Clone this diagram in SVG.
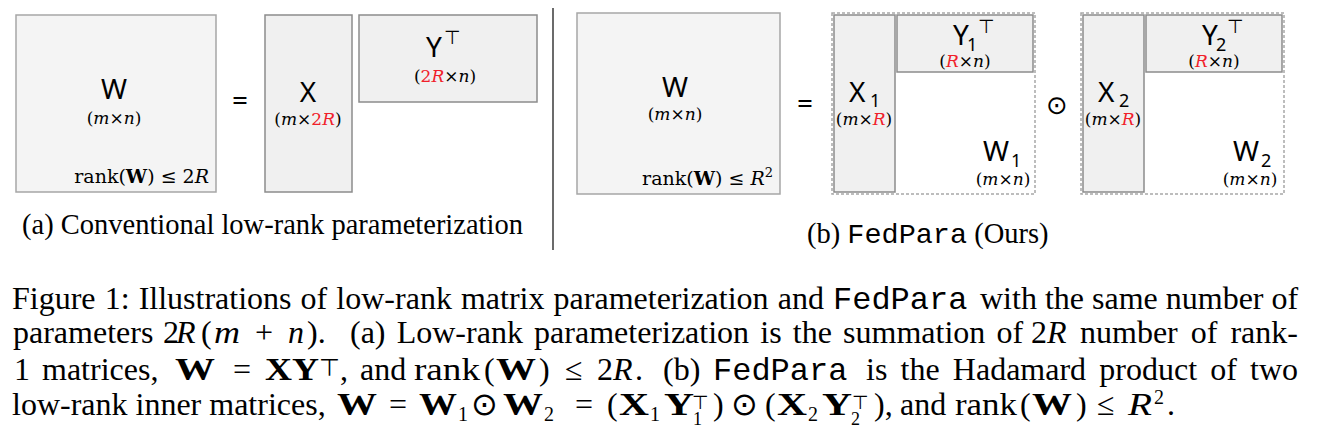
<svg xmlns="http://www.w3.org/2000/svg" width="1326" height="441" viewBox="0 0 1326 441">
<style>
.mat{fill:#f4f4f4;stroke:#a6a6a6;stroke-width:1.5}
.fac{fill:#f0f0f0;stroke:#8c8c8c;stroke-width:1.5}
.dash{fill:none;stroke:#a8a8a8;stroke-width:1.5;stroke-dasharray:3 2}
.lbl{font-family:"Noto Sans","Open Sans",sans-serif;font-size:28px;fill:#000}
.sub{font-family:"Noto Sans","Open Sans",sans-serif;font-size:18px;fill:#000}
.top{font-family:"DejaVu Sans",sans-serif;font-size:19px;fill:#000}
.dim{font-family:"DejaVu Serif",serif;font-size:17px;fill:#000}
.rk{font-family:"DejaVu Serif",serif;font-size:19px;fill:#000}
.it{font-style:italic}
.b{font-weight:bold}
.red{fill:#f0202a}
.op{font-family:"Noto Sans","DejaVu Sans",sans-serif;font-size:28px;fill:#000}
.odot{font-family:"DejaVu Sans",sans-serif;font-size:26px;fill:#000}
.sc{font-family:"Liberation Serif",serif;font-size:28.5px;fill:#000}
.cap{font-family:"Liberation Serif",serif;font-size:32px;fill:#000}
.mono{font-family:"Liberation Mono",monospace}
.sm{font-size:20px}
.sym{font-family:"DejaVu Sans",sans-serif}
</style>

<!-- (a) conventional -->
<g id="W-a">
<rect class="mat" x="16" y="15" width="200" height="177"/>
<text class="lbl" x="114" y="99" text-anchor="middle">W</text>
<text class="dim" x="114" y="124" text-anchor="middle">(<tspan class="it">m</tspan>×<tspan class="it">n</tspan>)</text>
<text class="rk" x="209" y="183" text-anchor="end">rank(<tspan class="b">W</tspan>) ≤ 2<tspan class="it">R</tspan></text>
</g>
<g id="X-a">
<rect class="fac" x="265" y="15" width="87" height="177"/>
<text class="lbl" x="308" y="102" text-anchor="middle">X</text>
<text class="dim" x="308" y="125" text-anchor="middle">(<tspan class="it">m</tspan>×<tspan class="red">2<tspan class="it">R</tspan></tspan>)</text>
</g>
<g id="Y-a">
<rect class="fac" x="359" y="15" width="178" height="87"/>
<text class="lbl" x="426" y="57">Y</text>
<text class="top" x="444" y="44">⊤</text>
<text class="dim" x="445" y="82" text-anchor="middle">(<tspan class="red">2<tspan class="it">R</tspan></tspan>×<tspan class="it">n</tspan>)</text>
</g>

<!-- (b) FedPara -->
<g id="W-b">
<rect class="mat" x="577" y="13" width="203" height="181"/>
<text class="lbl" x="675" y="97" text-anchor="middle">W</text>
<text class="dim" x="675" y="120" text-anchor="middle">(<tspan class="it">m</tspan>×<tspan class="it">n</tspan>)</text>
<text class="rk" x="773" y="185" text-anchor="end">rank(<tspan class="b">W</tspan>) ≤ <tspan class="it">R</tspan><tspan font-size="13" dy="-8">2</tspan></text>
</g>
<g id="W1">
<rect class="dash" x="832" y="13" width="203" height="181"/>
<text class="lbl" x="983" y="161">W</text>
<text class="sub" x="1011" y="167">1</text>
<text class="dim" x="1003" y="185" text-anchor="middle">(<tspan class="it">m</tspan>×<tspan class="it">n</tspan>)</text>
</g>
<g id="X1">
<rect class="fac" x="834" y="15" width="61" height="177"/>
<text class="lbl" x="849" y="102">X</text>
<text class="sub" x="870" y="107">1</text>
<text class="dim" x="864" y="125" text-anchor="middle">(<tspan class="it">m</tspan>×<tspan class="it red">R</tspan>)</text>
</g>
<g id="Y1">
<rect class="fac" x="897" y="15" width="136" height="57"/>
<text class="lbl" x="953" y="45">Y</text>
<text class="sub" x="967" y="51">1</text>
<text class="top" x="978" y="33">⊤</text>
<text class="dim" x="965" y="67" text-anchor="middle">(<tspan class="it red">R</tspan>×<tspan class="it">n</tspan>)</text>
</g>
<g id="W2">
<rect class="dash" x="1081" y="13" width="203" height="181"/>
<text class="lbl" x="1233" y="161">W</text>
<text class="sub" x="1261" y="167">2</text>
<text class="dim" x="1250" y="185" text-anchor="middle">(<tspan class="it">m</tspan>×<tspan class="it">n</tspan>)</text>
</g>
<g id="X2">
<rect class="fac" x="1083" y="15" width="61" height="177"/>
<text class="lbl" x="1098" y="102">X</text>
<text class="sub" x="1119" y="107">2</text>
<text class="dim" x="1113" y="125" text-anchor="middle">(<tspan class="it">m</tspan>×<tspan class="it red">R</tspan>)</text>
</g>
<g id="Y2">
<rect class="fac" x="1146" y="15" width="136" height="57"/>
<text class="lbl" x="1202" y="45">Y</text>
<text class="sub" x="1216" y="51">2</text>
<text class="top" x="1227" y="33">⊤</text>
<text class="dim" x="1214" y="67" text-anchor="middle">(<tspan class="it red">R</tspan>×<tspan class="it">n</tspan>)</text>
</g>

<g id="connectors">
<text class="op" x="240" y="110" text-anchor="middle">=</text>
<text class="op" x="805" y="113" text-anchor="middle">=</text>
<text class="odot" x="1057" y="114" text-anchor="middle">⊙</text>
<line x1="553" y1="8" x2="553" y2="250" stroke="#3a3a3a" stroke-width="1.5"/>
</g>

<g id="subcaptions">
<text class="sc" x="22" y="234">(a) Conventional low-rank parameterization</text>
<text class="sc" x="807" y="243">(b) <tspan class="mono">FedPara</tspan> (Ours)</text>
</g>

<g id="caption" class="cap">
<text y="309"><tspan x="12" word-spacing="1.1">Figure 1: Illustrations of low-rank matrix parameterization and</tspan><tspan x="833" class="mono">FedPara</tspan><tspan x="980">with the same number of</tspan></text>
<text y="343"><tspan x="13">parameters</tspan><tspan x="163">2</tspan><tspan x="176" class="it">R</tspan><tspan x="201">(</tspan><tspan x="214" class="it" textLength="26" lengthAdjust="spacingAndGlyphs">m</tspan><tspan x="255">+</tspan><tspan x="288" class="it">n</tspan><tspan x="307">).</tspan><tspan x="350" word-spacing="3.2">(a) Low-rank parameterization is the summation of</tspan><tspan x="1031">2</tspan><tspan x="1047" class="it">R</tspan><tspan x="1080" word-spacing="5">number of rank-</tspan></text>
<text y="380"><tspan x="14">1</tspan><tspan x="42">matrices,</tspan><tspan x="175" class="b" textLength="40" lengthAdjust="spacingAndGlyphs">W</tspan><tspan x="233">=</tspan><tspan x="265" class="b" textLength="54" lengthAdjust="spacingAndGlyphs">XY</tspan><tspan x="319" y="376" font-size="24" class="sym">⊤</tspan><tspan x="340" y="380">,</tspan><tspan x="360">and</tspan><tspan x="414" textLength="66" lengthAdjust="spacingAndGlyphs">rank</tspan><tspan x="484">(</tspan><tspan x="496" class="b" textLength="40" lengthAdjust="spacingAndGlyphs">W</tspan><tspan x="539">)</tspan><tspan x="565">≤</tspan><tspan x="597">2</tspan><tspan x="613" class="it">R</tspan><tspan x="635">.</tspan><tspan x="663">(b)</tspan><tspan x="713" class="mono">FedPara</tspan><tspan x="866" word-spacing="5.2">is the Hadamard product of two</tspan></text>
<text y="415"><tspan x="12">low-rank inner matrices,</tspan><tspan x="337" class="b" textLength="40" lengthAdjust="spacingAndGlyphs">W</tspan><tspan x="389">=</tspan><tspan x="419" class="b" textLength="38" lengthAdjust="spacingAndGlyphs">W</tspan><tspan x="458" y="421" class="sm">1</tspan><tspan x="471" y="415" class="sym">⊙</tspan><tspan x="503" class="b" textLength="40" lengthAdjust="spacingAndGlyphs">W</tspan><tspan x="544" y="421" class="sm">2</tspan><tspan x="575" y="415">=</tspan><tspan x="607">(</tspan><tspan x="619" class="b" textLength="30" lengthAdjust="spacingAndGlyphs">X</tspan><tspan x="650" y="421" class="sm">1</tspan><tspan x="664" y="415" class="b" textLength="30" lengthAdjust="spacingAndGlyphs">Y</tspan><tspan x="693" y="425" font-size="18">1</tspan><tspan x="692" y="409" font-size="19" class="sym">⊤</tspan><tspan x="713" y="415">)</tspan><tspan x="731" class="sym">⊙</tspan><tspan x="765">(</tspan><tspan x="777" class="b" textLength="30" lengthAdjust="spacingAndGlyphs">X</tspan><tspan x="808" y="421" class="sm">2</tspan><tspan x="822" y="415" class="b" textLength="30" lengthAdjust="spacingAndGlyphs">Y</tspan><tspan x="851" y="425" font-size="18">2</tspan><tspan x="852" y="409" font-size="19" class="sym">⊤</tspan><tspan x="874" y="415">),</tspan><tspan x="900">and</tspan><tspan x="955" textLength="62" lengthAdjust="spacingAndGlyphs">rank</tspan><tspan x="1020">(</tspan><tspan x="1032" class="b" textLength="40" lengthAdjust="spacingAndGlyphs">W</tspan><tspan x="1076">)</tspan><tspan x="1097">≤</tspan><tspan x="1128" class="it" textLength="24" lengthAdjust="spacingAndGlyphs">R</tspan><tspan x="1154" y="404" font-size="20">2</tspan><tspan x="1167" y="415">.</tspan></text>
</g>
</svg>
